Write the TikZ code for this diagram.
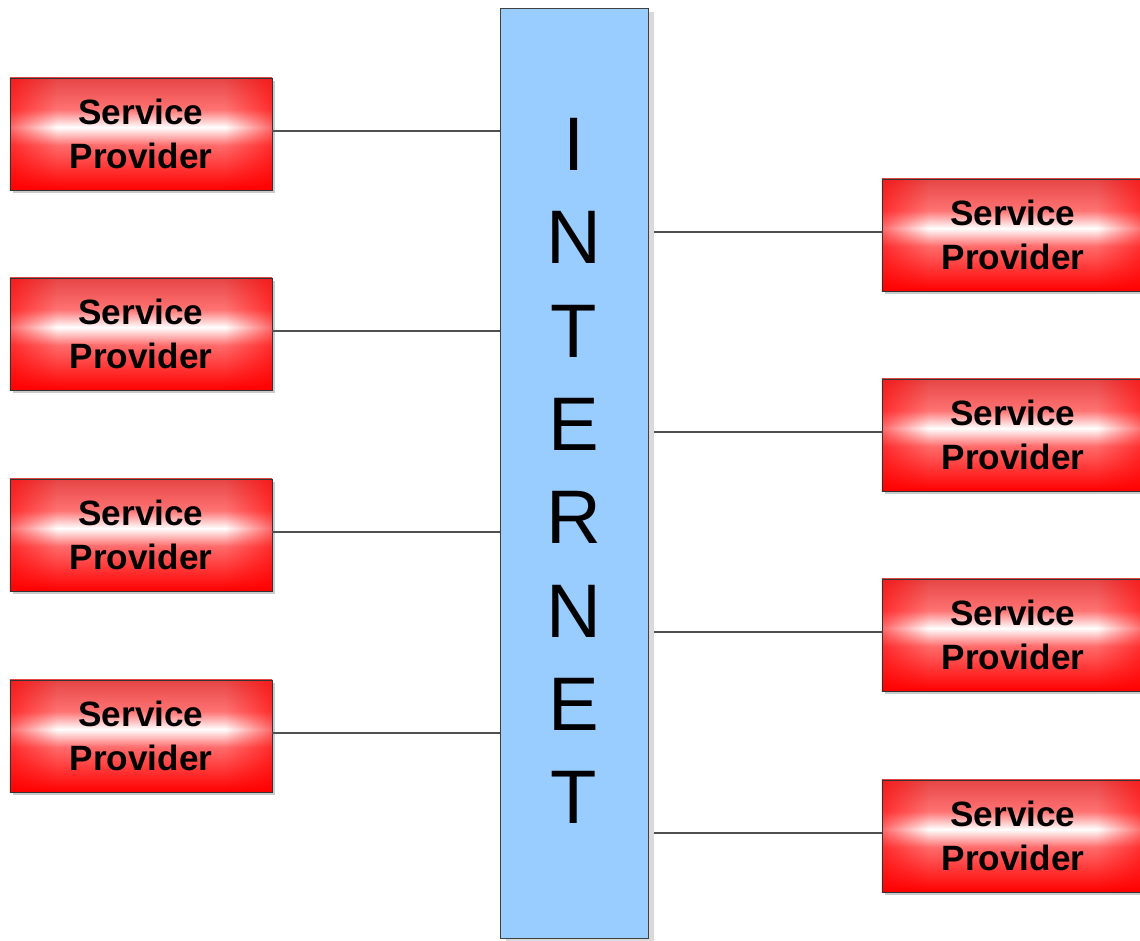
\documentclass[tikz,border=0pt]{standalone}
\usepackage{fontspec}
\setmainfont{Liberation Sans}
\usetikzlibrary{shadows,fadings}

\definecolor{netblue}{HTML}{99CCFF}
\definecolor{linkgrey}{HTML}{505050}
\definecolor{provtop}{HTML}{E64545}
\pgfdeclareverticalshading{provshade}{100bp}{color(0bp)=(red); color(25bp)=(red);
  color(45bp)=(red!58!white); color(53bp)=(white); color(61bp)=(red!55!white);
  color(75bp)=(provtop); color(100bp)=(provtop)}
% Maske: Raender rot, Mitte frei
\pgfdeclarehorizontalshading{sidemask}{100bp}{color(0bp)=(black!40); color(25bp)=(black!40);
  color(34bp)=(black); color(66bp)=(black); color(75bp)=(black!40); color(100bp)=(black!40)}
\tikzfading[name=sidefade, shading=sidemask]

\begin{document}
\begin{tikzpicture}[x=0.025cm, y=-0.025cm,
    provider/.style={draw=black!80, thin, shading=provshade, inner sep=0pt,
      minimum width=6.55cm, minimum height=2.8cm, align=center,
      font=\bfseries\fontsize{25}{31}\selectfont,
      path picture={\fill[red, path fading=sidefade]
        (path picture bounding box.south west) rectangle (path picture bounding box.north east);},
      drop shadow={shadow xshift=0.08cm, shadow yshift=-0.08cm, fill=black!35, opacity=.6}},
    bar/.style={draw=black!75, thin, fill=netblue, inner sep=0pt,
      minimum width=3.7cm, minimum height=23.25cm,
      drop shadow={shadow xshift=0.15cm, shadow yshift=-0.1cm, fill=black!15, opacity=1}},
    letter/.style={font=\fontsize{54}{60}\selectfont, inner sep=0pt},
    link/.style={draw=linkgrey, line width=0.8pt}]
  % Seitengroesse wie im Original
  \useasboundingbox (0,0) rectangle (1140,941);

  % Internet-Balken
  \node[bar] (net) at (574,473) {};
  \foreach \l [count=\i] in {I,N,T,E,R,N,E,T}
    \node[letter] (ch\i) at (574,{144.5+(\i-1)*93.3}) {\l};

  % Anbieter links
  \node[provider] (lp1) at (141,134) {Service\\Provider};
  \node[provider] (lp2) at (141,334) {Service\\Provider};
  \node[provider] (lp3) at (141,535) {Service\\Provider};
  \node[provider] (lp4) at (141,736) {Service\\Provider};

  % Anbieter rechts
  \node[provider] (rp1) at (1013,235) {Service\\Provider};
  \node[provider] (rp2) at (1013,435) {Service\\Provider};
  \node[provider] (rp3) at (1013,635) {Service\\Provider};
  \node[provider] (rp4) at (1013,836) {Service\\Provider};

  % Verbindungen
  \foreach \n in {1,...,4}{
    \draw[link] ([yshift=0.075cm]lp\n.east) -- ([yshift=0.075cm]lp\n.east -| net.west);
    \draw[link] ([yshift=0.075cm]rp\n.west) -- ([yshift=0.075cm,xshift=0.15cm]rp\n.west -| net.east);
  }
\end{tikzpicture}
\end{document}
